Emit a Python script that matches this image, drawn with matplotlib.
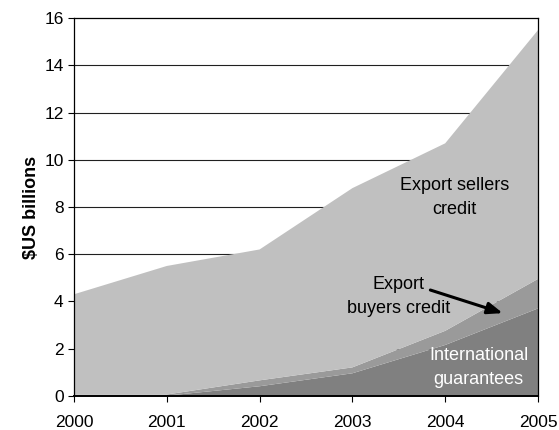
import matplotlib
matplotlib.use('Agg')
from matplotlib import pyplot as plt

plt.rcParams['font.family'] = ['Liberation Sans', 'DejaVu Sans']

years = [2000, 2001, 2002, 2003, 2004, 2005]
intl_guarantees = [0.0, 0.0, 0.4, 0.95, 2.15, 3.7]
buyers_credit = [0.05, 0.05, 0.25, 0.25, 0.6, 1.25]
sellers_credit = [4.25, 5.45, 5.55, 7.6, 7.95, 10.55]

fig = plt.figure(figsize=(5.59, 4.30), dpi=100)
ax = fig.add_axes([0.1324, 0.0798, 0.83, 0.8776])

# grid behind the areas
for v in range(2, 16, 2):
    ax.axhline(v, color='#202020', lw=0.8, zorder=0)

ax.stackplot(years, intl_guarantees, buyers_credit, sellers_credit,
             colors=['#808080', '#9a9a9a', '#c0c0c0'], zorder=1)

ax.set_xlim(2000, 2005)
ax.set_ylim(0, 16)
ax.set_xticks(years)
ax.set_yticks(range(0, 17, 2))
ax.tick_params(axis='both', labelsize=12.5, direction='out', length=4, width=0.8, colors='black')
ax.tick_params(axis='x', pad=10)
for s in ax.spines.values():
    s.set_linewidth(0.9)
    s.set_color('black')
    s.set_zorder(3)
ax.spines['bottom'].set_linewidth(1.4)

ax.set_ylabel('$US billions', fontsize=13, fontweight='bold', labelpad=3)

ax.text(2004.1, 8.4, 'Export sellers\ncredit', fontsize=13, ha='center', va='center',
        linespacing=1.5)
ax.text(2003.5, 4.2, 'Export\nbuyers credit', fontsize=13, ha='center', va='center',
        linespacing=1.5)
ax.annotate('', xy=(2004.62, 3.5), xytext=(2003.84, 4.48),
            arrowprops=dict(arrowstyle='-|>,head_length=0.9,head_width=0.35',
                            color='black', lw=2.2, shrinkA=0, shrinkB=0))
ax.text(2004.36, 1.2, 'International\nguarantees', fontsize=13, ha='center', va='center',
        color='white', linespacing=1.5)

plt.savefig('out.png', dpi=100)
